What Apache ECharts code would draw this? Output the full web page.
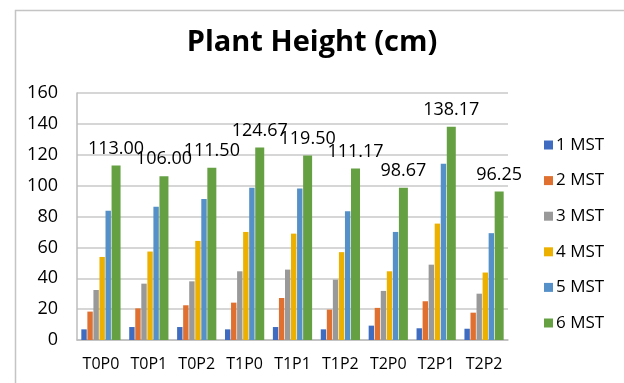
<!DOCTYPE html>
<html><head><meta charset="utf-8">
<script src="https://cdn.jsdelivr.net/npm/echarts@6/dist/echarts.min.js"></script>
<style>html,body{margin:0;padding:0;background:#fff}#c{width:624px;height:383px}</style>
</head><body><div id="c"></div>
<script>
const categories = ['T0P0','T0P1','T0P2','T1P0','T1P1','T1P2','T2P0','T2P1','T2P2'];
const seriesNames = ['1 MST','2 MST','3 MST','4 MST','5 MST','6 MST'];
const mst1 = [6.9, 8.4, 8.4, 6.9, 8.4, 6.9, 9.3, 7.6, 7.3];
const mst2 = [18.4, 20.5, 22.5, 24.2, 27.2, 19.7, 20.8, 25.1, 17.7];
const mst3 = [32.4, 36.5, 38.0, 44.5, 45.6, 39.1, 31.8, 48.8, 30.0];
const mst4 = [53.8, 57.3, 64.2, 70.0, 68.9, 56.9, 44.5, 75.4, 43.7];
const mst5 = [83.7, 86.3, 91.4, 98.6, 98.1, 83.4, 70.0, 114.1, 69.2];
const mst6 = [113.00, 106.00, 111.50, 124.67, 119.50, 111.17, 98.67, 138.17, 96.25];
const yTicks = [0, 20, 40, 60, 80, 100, 120, 140, 160];

const allData = [mst1, mst2, mst3, mst4, mst5, mst6];
const colors = ['#3f6cc0', '#e07030', '#999999', '#ecb000', '#5590c8', '#65a043'];
const FONT = 'Open Sans';

const chart = echarts.init(document.getElementById('c'));
chart.setOption({
  animation: false,
  color: colors,
  title: {
    text: 'Plant Height (cm)', left: 'center', top: 23,
    textStyle: { fontFamily: FONT, fontSize: 29, fontWeight: 'bold', color: '#000' }
  },
  graphic: [{
    type: 'rect', shape: { x: 15.5, y: 10.5, width: 700, height: 500 },
    style: { fill: 'none', stroke: '#c4c4c4', lineWidth: 1.5 }, silent: true
  }],
  legend: {
    orient: 'vertical', left: 539, top: 131,
    itemWidth: 9, itemHeight: 9, itemGap: 17.6,
    icon: 'rect',
    textStyle: { fontFamily: FONT, fontSize: 17, color: '#000', lineHeight: 18, padding: [0,0,0,-2] },
    data: seriesNames
  },
  grid: { left: 77, right: 116, top: 93, bottom: 43 },
  xAxis: {
    type: 'category', data: categories,
    axisLine: { lineStyle: { color: '#bdbdbd', width: 1.5 } },
    axisTick: { show: false },
    axisLabel: { interval: 0, fontFamily: FONT, fontSize: 16, color: '#000', margin: 16 }
  },
  yAxis: {
    type: 'value', min: yTicks[0], max: yTicks[yTicks.length - 1], interval: yTicks[1] - yTicks[0],
    axisLine: { show: true, lineStyle: { color: '#bdbdbd', width: 1.5 } },
    axisTick: { show: false },
    splitLine: { lineStyle: { color: '#c8c8c8', width: 1.5 } },
    axisLabel: { fontFamily: FONT, fontSize: 18, color: '#000', margin: 19 }
  },
  series: seriesNames.map((name, i) => ({
    name, type: 'bar', data: allData[i],
    barWidth: i === 5 ? 9 : 5.4,
    barGap: '12%',
    barCategoryGap: '18%',
    label: i === 5 ? {
      show: true, position: 'top', distance: 8,
      fontFamily: FONT, fontSize: 18, color: '#000',
      formatter: p => p.value.toFixed(2)
    } : { show: false }
  }))
});
</script></body></html>
